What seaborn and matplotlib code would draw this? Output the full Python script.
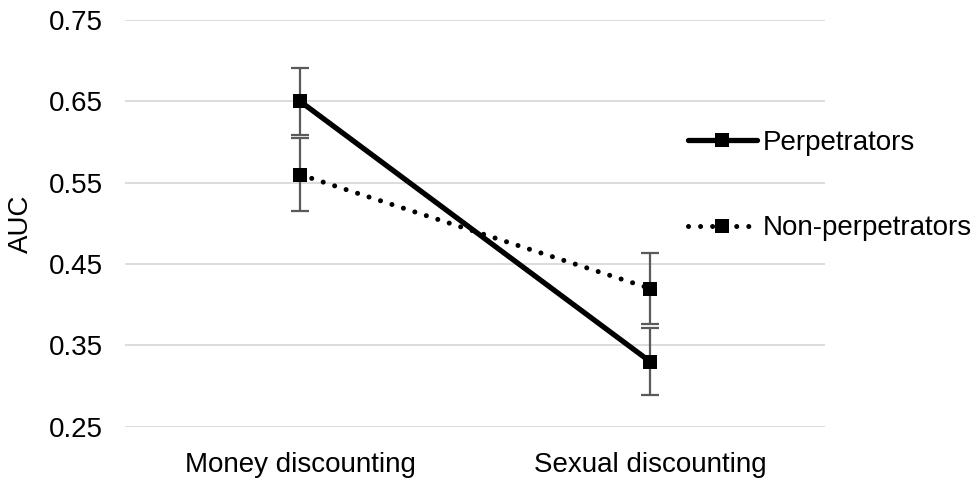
import numpy as np
import pandas as pd
import matplotlib.pyplot as plt
import seaborn as sns
from matplotlib.lines import Line2D

# -----------------------------
# Data
# -----------------------------
categories = ["Money discounting", "Sexual discounting"]
groups = ["Perpetrators", "Non-perpetrators"]
perp_auc = [0.65, 0.33]
perp_err = [0.041, 0.041]
nonperp_auc = [0.56, 0.42]
nonperp_err = [0.045, 0.044]
y_ticks = [0.25, 0.35, 0.45, 0.55, 0.65, 0.75]

df = pd.DataFrame({
    "x": [0, 1, 0, 1],
    "AUC": perp_auc + nonperp_auc,
    "group": [groups[0]] * 2 + [groups[1]] * 2,
})

# -----------------------------
# Plot
# -----------------------------
sns.set_style("white")
plt.rcParams["font.family"] = ["Liberation Sans", "DejaVu Sans"]
plt.rcParams["text.color"] = "black"
plt.rcParams["axes.labelcolor"] = "black"
plt.rcParams["xtick.color"] = "black"
plt.rcParams["ytick.color"] = "black"
FS = 20
DOT = (0, (0.01, 2.4))

fig = plt.figure(figsize=(9.78, 4.78), dpi=100)
ax = fig.add_axes([0.128, 0.107, 0.716, 0.851])

styles = {
    groups[0]: dict(ls="-", lw=3.8, dash_capstyle="butt"),
    groups[1]: dict(ls=DOT, lw=3.6, dash_capstyle="round"),
}

for g in groups:
    sub = df[df["group"] == g]
    sns.lineplot(
        data=sub, x="x", y="AUC", ax=ax, color="black",
        linewidth=styles[g]["lw"], linestyle=styles[g]["ls"],
        dash_capstyle=styles[g]["dash_capstyle"],
        marker="s", markersize=10.5, markeredgewidth=0,
        legend=False, zorder=3,
    )

# error bars
ax.errorbar([0, 1], perp_auc, yerr=perp_err, fmt="none",
            ecolor="#5a5a5a", elinewidth=1.6, capsize=6.5, capthick=1.6, zorder=2)
ax.errorbar([0, 1], nonperp_auc, yerr=nonperp_err, fmt="none",
            ecolor="#5a5a5a", elinewidth=1.6, capsize=6.5, capthick=1.6, zorder=2)

ax.set_xlim(-0.5, 1.5)
ax.set_ylim(0.25, 0.75)
ax.set_yticks(y_ticks)
ax.set_yticklabels([f"{t:.2f}" for t in y_ticks], fontsize=FS)
ax.set_xticks([0, 1])
ax.set_xticklabels(categories, fontsize=FS)
ax.tick_params(axis="y", length=0, pad=16)
ax.tick_params(axis="x", length=0, pad=18)
ax.yaxis.grid(True, color="#d9d9d9", linewidth=1.3)
ax.set_axisbelow(True)
for s in ax.spines.values():
    s.set_visible(False)
ax.set_xlabel("")
ax.set_ylabel("AUC", fontsize=FS, labelpad=11)

handles = [
    Line2D([], [], color="black", lw=3.8, marker="s", markersize=10.5,
           markeredgewidth=0),
    Line2D([], [], color="black", lw=3.6, ls=DOT,
           dash_capstyle="round", marker="s", markersize=10.5,
           markeredgewidth=0),
]
fig.legend(handles, groups, loc="center left",
           bbox_to_anchor=(0.703, 0.612), frameon=False, fontsize=FS,
           handlelength=2.5, handletextpad=0.2, labelspacing=2.15,
           borderaxespad=0, borderpad=0)

fig.savefig("out.png", dpi=100)
